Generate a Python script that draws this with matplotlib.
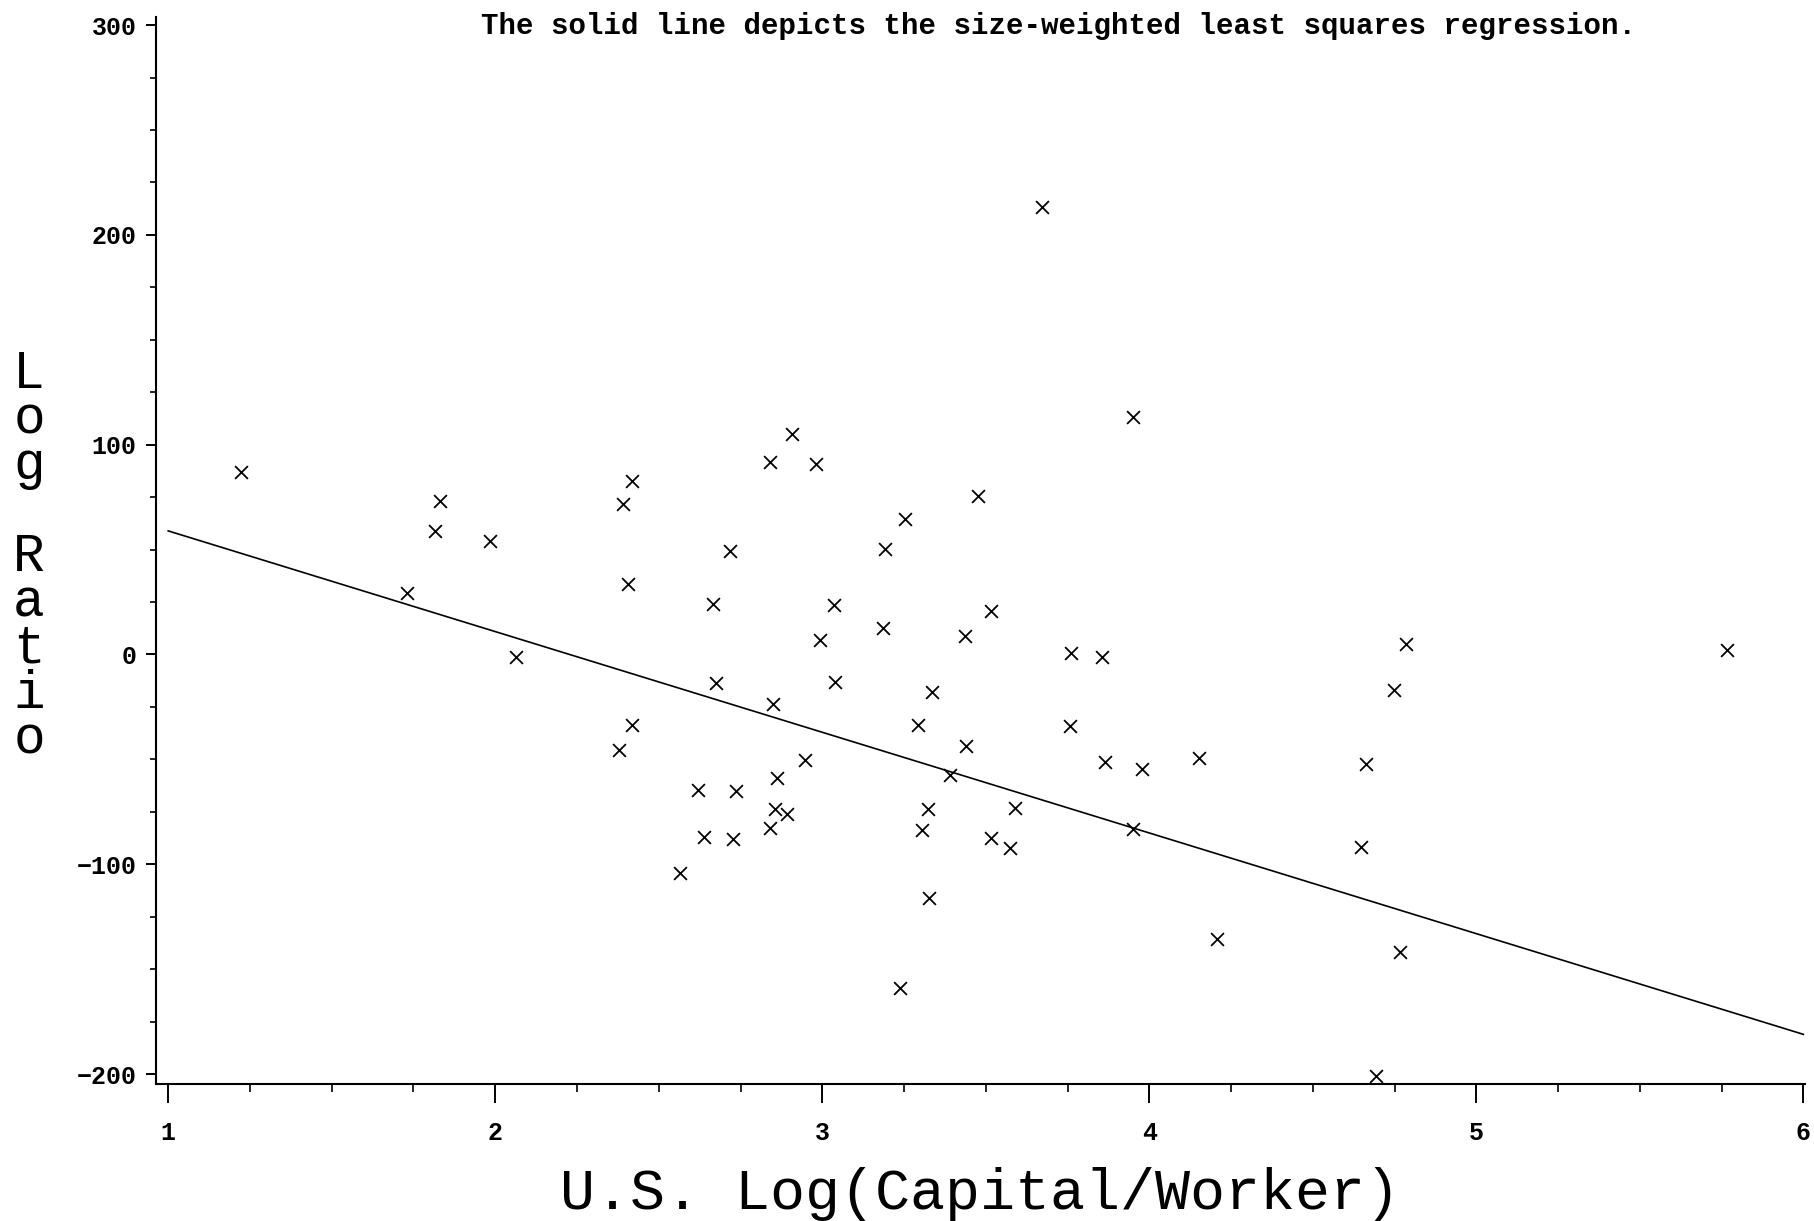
import matplotlib
matplotlib.use("Agg")
import matplotlib.pyplot as plt
from matplotlib.ticker import MultipleLocator
import numpy as np

# ---- data ----
log_cap_worker = [
    1.223, 1.729, 1.816, 1.830, 1.983, 2.065, 2.391, 2.419, 2.405, 2.419,
    2.377, 2.566, 2.621, 2.637, 2.665, 2.674, 2.718, 2.737, 2.728, 2.840,
    2.849, 2.861, 2.854, 2.839, 2.892, 2.906, 2.948, 2.982, 2.992, 3.035,
    3.040, 3.191, 3.185, 3.253, 3.238, 3.292, 3.304, 3.324, 3.327, 3.335,
    3.390, 3.437, 3.438, 3.475, 3.516, 3.517, 3.574, 3.589, 3.672, 3.761,
    3.758, 3.856, 3.863, 3.951, 3.951, 3.979, 4.151, 4.208, 4.646, 4.664,
    4.694, 4.749, 4.766, 4.784, 5.766,
]
log_ratio = [
    87.0, 29.4, 58.9, 73.2, 54.2, -1.1, 71.5, 82.6, 33.6, -33.6,
    -45.7, -104.3, -64.7, -86.8, 24.1, -13.6, 49.4, -65.0, -88.1, 91.6,
    -23.7, -58.9, -73.9, -82.9, -76.1, 105.1, -50.2, 91.0, 7.0, 23.4,
    -13.2, 50.2, 12.5, 64.5, -158.9, -33.7, -83.7, -73.5, -115.9, -17.9,
    -57.5, 9.0, -43.6, 75.3, 20.9, -87.3, -92.4, -73.2, 213.5, 0.6,
    -34.1, -1.3, -51.3, 113.3, -83.4, -54.5, -49.3, -135.7, -91.6, -52.0,
    -201.0, -16.8, -142.0, 5.1, 2.2,
]
# size-weighted least squares fit
fit_intercept = 106.9
fit_slope = -48.0
fit_range = [1.0, 6.0]

x_ticks = [1, 2, 3, 4, 5, 6]
y_ticks = [-200, -100, 0, 100, 200, 300]

title_text = "The solid line depicts the size-weighted least squares regression."
x_label = "U.S. Log(Capital/Worker)"
y_label = "Log Ratio"

# ---- figure ----
mono = "Liberation Mono"
fig = plt.figure(figsize=(18.15, 12.21), dpi=100)
ax = fig.add_axes([0.0860, 0.1118, 0.9085, 0.8745])

ax.scatter(log_cap_worker, log_ratio, marker="x", s=85, c="black",
           linewidths=1.3, zorder=3)

xf = np.array(fit_range)
ax.plot(xf, fit_intercept + fit_slope * xf, color="black", lw=1.2)

ax.set_xlim(0.963, 6.005)
ax.set_ylim(-205, 304)

for s in ("top", "right"):
    ax.spines[s].set_visible(False)
for s in ("left", "bottom"):
    ax.spines[s].set_linewidth(1.5)

ax.set_xticks(x_ticks)
ax.set_yticks(y_ticks)
ax.xaxis.set_minor_locator(MultipleLocator(0.25))
ax.yaxis.set_minor_locator(MultipleLocator(25))
ax.tick_params(axis="x", which="major", direction="out", length=14, width=1.4, pad=12)
ax.tick_params(axis="x", which="minor", direction="out", length=6, width=1.2)
ax.tick_params(axis="y", which="major", direction="out", length=7, width=1.4, pad=7)
ax.tick_params(axis="y", which="minor", direction="out", length=4, width=1.2)

for lab in ax.get_xticklabels() + ax.get_yticklabels():
    lab.set_fontfamily(mono)
    lab.set_fontweight("bold")
    lab.set_fontsize(18)

fig.text(0.583, 0.972, title_text, family=mono, weight="bold", fontsize=21,
         ha="center", va="baseline")
fig.text(0.540, 0.010, x_label, family=mono, fontsize=42,
         ha="center", va="baseline")
fig.text(0.016, 0.544, "\n".join(list(y_label)), family=mono, fontsize=38,
         ha="center", va="center", multialignment="center", linespacing=0.89)

fig.savefig("out.png", dpi=100, facecolor="white")
